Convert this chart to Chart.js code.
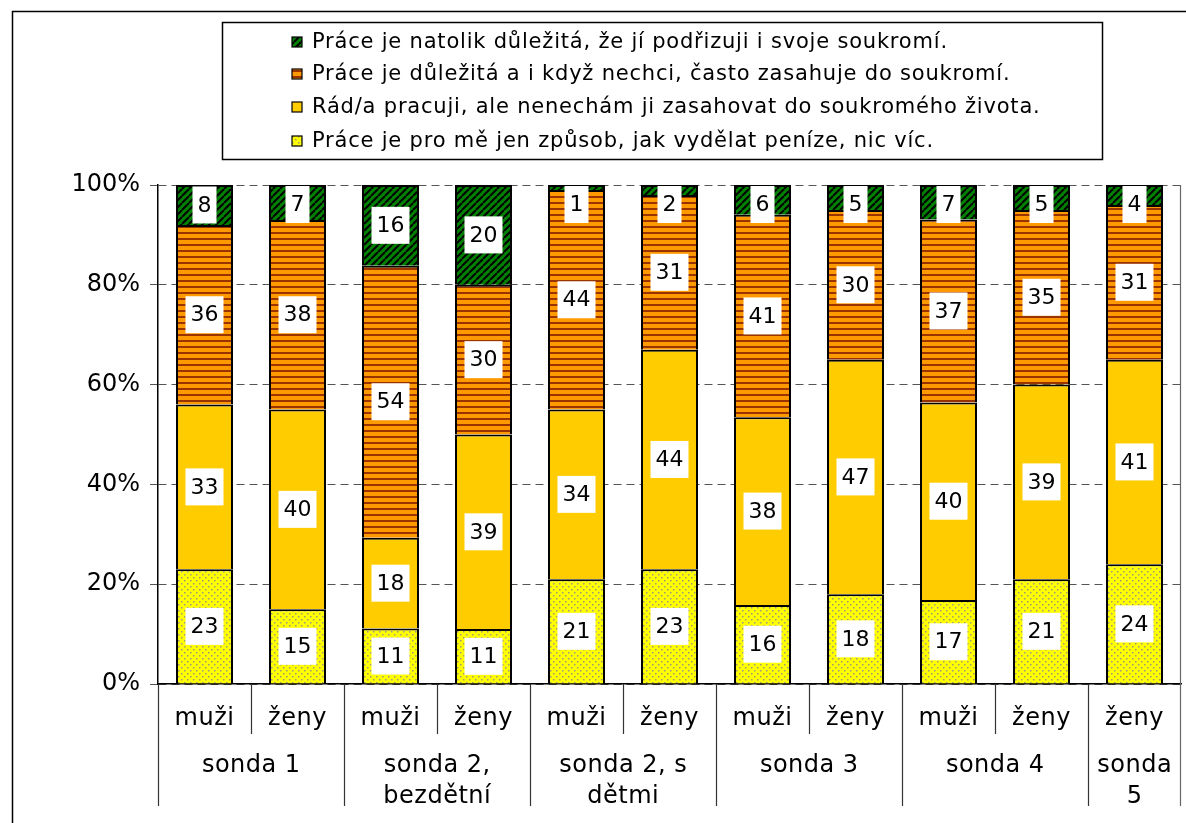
<!DOCTYPE html>
<html>
<head>
<meta charset="utf-8">
<script src="https://cdn.jsdelivr.net/npm/chart.js@4.4.0/dist/chart.umd.min.js"></script>
<style>
  html, body { margin: 0; padding: 0; background: #fff; }
  canvas { display: block; }
</style>
</head>
<body>
<canvas id="graf" width="1186" height="823"></canvas>
<script>
// popisky kategorií
const pohlavi = ['muži', 'ženy', 'muži', 'ženy', 'muži', 'ženy', 'muži', 'ženy', 'muži', 'ženy', 'ženy'];
const sondy = ['sonda 1', ['sonda 2,', 'bezdětní'], ['sonda 2, s', 'dětmi'], 'sonda 3', 'sonda 4', ['sonda', '5']];
const velikostSond = [2, 2, 2, 2, 2, 1];

// řady (zdola nahoru)
const nazvyRad = [
  'Práce je pro mě jen způsob, jak vydělat peníze, nic víc.',
  'Rád/a pracuji, ale nenechám ji zasahovat do soukromého života.',
  'Práce je důležitá a i když nechci, často zasahuje do soukromí.',
  'Práce je natolik důležitá, že jí podřizuji i svoje soukromí.'
];
const jenPenize  = [23, 15, 11, 11, 21, 23, 16, 18, 17, 21, 24];
const radPracuji = [33, 40, 18, 39, 34, 44, 38, 47, 40, 39, 41];
const zasahuje   = [36, 38, 54, 30, 44, 31, 41, 30, 37, 35, 31];
const podrizuji  = [8, 7, 16, 20, 1, 2, 6, 5, 7, 5, 4];

const osaY = [0, 20, 40, 60, 80, 100];

const FONT = '"DejaVu Sans", Verdana, sans-serif';

// vzory výplní
function vzor(typ) {
  const c = document.createElement('canvas');
  const x = c.getContext('2d');
  if (typ === 'tecky') {
    c.width = 6; c.height = 6;
    x.fillStyle = '#FFFF00'; x.fillRect(0, 0, 6, 6);
    x.fillStyle = '#9a9a7a';
    x.fillRect(1, 1, 1.5, 1.5);
    x.fillRect(4, 4, 1.5, 1.5);
  } else if (typ === 'pruhy') {
    c.width = 4; c.height = 6;
    x.fillStyle = '#FF9900'; x.fillRect(0, 0, 4, 6);
    x.fillStyle = '#993300'; x.fillRect(0, 4, 4, 2);
  } else if (typ === 'sikme') {
    const s = 7;
    c.width = s; c.height = s;
    x.fillStyle = '#008000'; x.fillRect(0, 0, s, s);
    x.strokeStyle = '#000'; x.lineWidth = 2;
    x.beginPath();
    [-s, 0, s].forEach(k => { x.moveTo(k, s); x.lineTo(k + s, 0); });
    x.stroke();
  }
  return typ === 'plna' ? '#FFCC00' : x.createPattern(c, 'repeat');
}

const barvy = [vzor('tecky'), vzor('plna'), vzor('pruhy'), vzor('sikme')];
const rady = [jenPenize, radPracuji, zasahuje, podrizuji];

const soucty = pohlavi.map((_, i) => rady.reduce((s, r) => s + r[i], 0));

const datasety = rady.map((r, k) => ({
  label: nazvyRad[k],
  data: r.map((v, i) => v / soucty[i] * 100),
  hodnoty: r,
  backgroundColor: barvy[k],
  borderColor: '#000',
  borderWidth: 2,
  barPercentage: 1,
  categoryPercentage: 0.613
}));

// rámeček grafu
const ramecek = {
  id: 'ramecek',
  beforeDraw(chart) {
    const ctx = chart.ctx;
    ctx.save();
    ctx.fillStyle = '#fff';
    ctx.fillRect(0, 0, chart.width, chart.height);
    ctx.strokeStyle = '#000';
    ctx.lineWidth = 1.5;
    ctx.beginPath();
    ctx.moveTo(12.5, chart.height);
    ctx.lineTo(12.5, 11.5);
    ctx.lineTo(chart.width, 11.5);
    ctx.stroke();
    ctx.restore();
  }
};

// popisky hodnot v bílých rámečcích
const hodnotyPopisky = {
  id: 'hodnotyPopisky',
  afterDatasetsDraw(chart) {
    const ctx = chart.ctx;
    const a = chart.chartArea;
    ctx.save();
    ctx.font = '22px ' + FONT;
    ctx.textAlign = 'center';
    ctx.textBaseline = 'middle';
    chart.data.datasets.forEach((ds, di) => {
      const meta = chart.getDatasetMeta(di);
      meta.data.forEach((el, i) => {
        const txt = String(ds.hodnoty[i]);
        const w = ctx.measureText(txt).width + 10;
        const h = 37;
        let cy = (el.y + el.base) / 2;
        if (cy - h / 2 < a.top + 1) cy = a.top + 1 + h / 2;
        ctx.fillStyle = '#fff';
        ctx.fillRect(el.x - w / 2, cy - h / 2, w, h);
        ctx.fillStyle = '#000';
        ctx.fillText(txt, el.x, cy + 1);
      });
    });
    ctx.restore();
  }
};

// víceúrovňová osa X
const osaKategorii = {
  id: 'osaKategorii',
  afterDraw(chart) {
    const ctx = chart.ctx;
    const a = chart.chartArea;
    const x = chart.scales.x;
    const pul = (x.getPixelForValue(1) - x.getPixelForValue(0)) / 2;
    const cara = (x1, y1, x2, y2) => {
      ctx.beginPath(); ctx.moveTo(x1, y1); ctx.lineTo(x2, y2); ctx.stroke();
    };
    ctx.save();
    ctx.font = '24px ' + FONT;
    ctx.letterSpacing = '0.5px';
    ctx.fillStyle = '#000';
    ctx.textAlign = 'center';
    ctx.textBaseline = 'middle';
    ctx.strokeStyle = '#333';
    ctx.lineWidth = 1.2;
    pohlavi.forEach((p, i) => ctx.fillText(p, x.getPixelForValue(i), a.bottom + 35));
    let start = 0;
    sondy.forEach((s, gi) => {
      const n = velikostSond[gi];
      const vlevo = Math.round(x.getPixelForValue(start) - pul) + 0.5;
      const vpravo = x.getPixelForValue(start + n - 1) + pul;
      cara(vlevo, a.bottom, vlevo, a.bottom + 122);
      for (let k = 1; k < n; k++) {
        const px = Math.round(x.getPixelForValue(start + k) - pul) + 0.5;
        cara(px, a.bottom, px, a.bottom + 50);
      }
      const radky = Array.isArray(s) ? s : [s];
      radky.forEach((t, li) => ctx.fillText(t, (vlevo + vpravo) / 2, a.bottom + 82 + li * 31));
      start += n;
    });
    ctx.strokeStyle = '#666';
    cara(a.right - 0.5, a.top, a.right - 0.5, a.bottom + 122);
    ctx.restore();
  }
};

// legenda v rámečku
const legendaBox = {
  id: 'legendaBox',
  afterDraw(chart) {
    const ctx = chart.ctx;
    ctx.save();
    ctx.strokeStyle = '#000';
    ctx.lineWidth = 1.5;
    ctx.strokeRect(222.5, 22.5, 880, 137);
    ctx.font = '21px ' + FONT;
    ctx.letterSpacing = '0.8px';
    ctx.textBaseline = 'middle';
    ctx.textAlign = 'left';
    const radkyY = [42, 74, 107, 141];
    const ds = chart.data.datasets.slice().reverse();
    ds.forEach((d, i) => {
      const y = radkyY[i];
      ctx.fillStyle = d.backgroundColor;
      ctx.fillRect(292, y - 5, 10, 10);
      ctx.lineWidth = 1.2;
      ctx.strokeRect(292, y - 5, 10, 10);
      ctx.fillStyle = '#000';
      ctx.fillText(d.label, 312, y + 1);
    });
    ctx.restore();
  }
};

new Chart(document.getElementById('graf'), {
  type: 'bar',
  data: {
    labels: pohlavi,
    datasets: datasety
  },
  options: {
    responsive: false,
    animation: false,
    devicePixelRatio: 1,
    layout: { padding: { top: 185, right: 5, left: 0, bottom: 0 } },
    plugins: {
      legend: { display: false },
      tooltip: { enabled: false }
    },
    scales: {
      x: {
        stacked: true,
        grid: { display: false },
        ticks: { display: false },
        border: { color: '#000', width: 1.5 },
        afterFit: s => { s.height = 139; }
      },
      y: {
        stacked: true,
        min: 0,
        max: 100,
        afterBuildTicks: s => { s.ticks = osaY.map(v => ({ value: v })); },
        ticks: {
          callback: v => v + '%',
          color: '#000',
          padding: 10,
          font: { family: FONT, size: 24 }
        },
        grid: {
          color: '#555',
          tickColor: '#555',
          tickLength: 8,
          lineWidth: 1
        },
        border: { color: '#000', width: 1.5, dash: [8, 5] },
        afterFit: s => { s.width = 158; }
      }
    }
  },
  plugins: [ramecek, hodnotyPopisky, osaKategorii, legendaBox]
});
</script>
</body>
</html>
